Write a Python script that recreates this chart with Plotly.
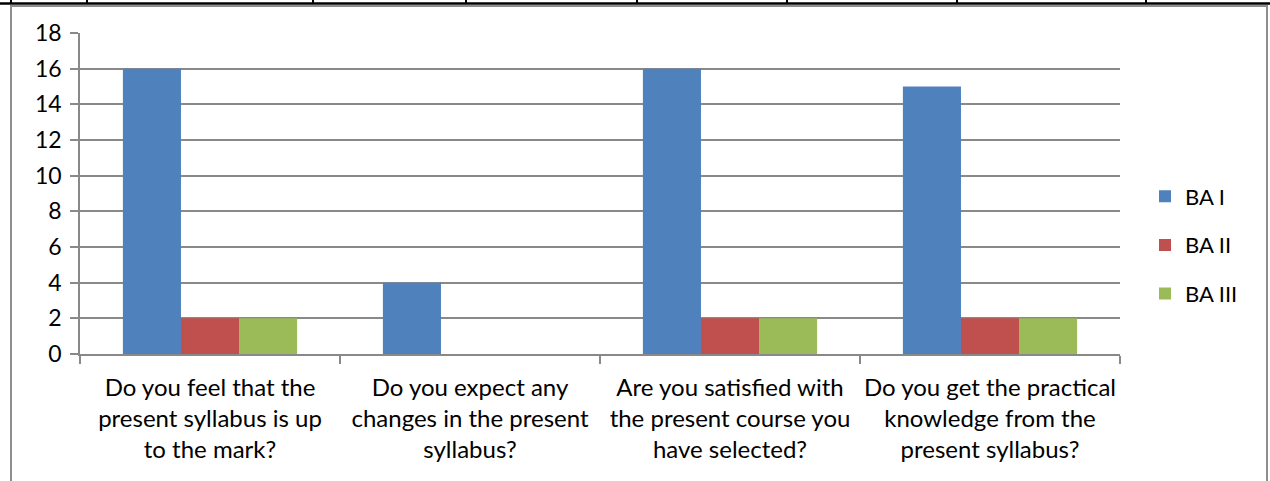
import plotly.graph_objects as go

categories = [
    "Do you feel that the<br>present syllabus is up<br>to the mark?",
    "Do you expect any<br>changes in the present<br>syllabus?",
    "Are you satisfied with<br>the present course you<br>have selected?",
    "Do you get the practical<br>knowledge from the<br>present syllabus?",
]
series_names = ["BA I", "BA II", "BA III"]
ba1 = [16, 4, 16, 15]
ba2 = [2, 0, 2, 2]
ba3 = [2, 0, 2, 2]
colors = ["#4F81BD", "#C0504D", "#9BBB59"]
y_ticks = [0, 2, 4, 6, 8, 10, 12, 14, 16, 18]

W, H = 1270, 481
L, R, T, B = 80, 150, 33, 127
PW, PH = W - L - R, H - T - B

def px(x):
    return (x - L) / PW

def py(y):
    return (H - B - y) / PH

FONT = "Lato, Calibri, Arial, sans-serif"
GRID = "#898989"

fig = go.Figure()
for name, vals, col in zip(series_names, [ba1, ba2, ba3], colors):
    fig.add_trace(go.Bar(name=name, x=categories, y=vals, marker_color=col,
                         marker_line_width=0, legendgroup=name))

shapes = []
# document table line at the top
shapes.append(dict(type="line", xref="paper", yref="paper", x0=px(0), x1=px(W),
                   y0=py(3.5), y1=py(3.5), line=dict(color="black", width=2.5)))
for xv in [11, 87, 313, 466, 637, 787, 957, 1146]:
    shapes.append(dict(type="line", xref="paper", yref="paper", x0=px(xv), x1=px(xv),
                       y0=py(0), y1=py(4), line=dict(color="black", width=2)))
# chart frame
shapes.append(dict(type="rect", xref="paper", yref="paper", x0=px(11), x1=px(1267),
                   y0=py(490), y1=py(6), line=dict(color="#8e8e8e", width=2),
                   fillcolor="rgba(0,0,0,0)", layer="below"))

fig.update_layout(
    width=W, height=H,
    margin=dict(l=L, r=R, t=T, b=B, pad=0, autoexpand=False),
    paper_bgcolor="white", plot_bgcolor="white",
    barmode="group", bargap=0.33, bargroupgap=0,
    font=dict(family=FONT, size=24, color="#000000"),
    showlegend=True,
    legend=dict(x=px(1145), y=py(245), xanchor="left", yanchor="middle",
                font=dict(family=FONT, size=22, color="#000000"),
                traceorder="grouped", tracegroupgap=17,
                bgcolor="rgba(0,0,0,0)", itemwidth=30),
    shapes=shapes,
    xaxis=dict(type="category", showline=True, linecolor=GRID, linewidth=1.5,
               ticks="outside", ticklen=8, tickcolor=GRID, tickwidth=1.5,
               tickson="boundaries", showgrid=False, ticklabelstandoff=11,
               tickangle=0, automargin=False,
               tickfont=dict(family=FONT, size=24, color="#000000")),
    yaxis=dict(range=[0, 18], tickvals=y_ticks, showline=True, linecolor=GRID,
               linewidth=1.5, ticks="outside", ticklen=8, tickcolor=GRID,
               tickwidth=1.5, showgrid=True, gridcolor=GRID, gridwidth=1.5,
               zeroline=False, ticklabelstandoff=4, automargin=False,
               tickfont=dict(family=FONT, size=23, color="#000000")),
)

fig.write_html("out.html", config={"displayModeBar": False},
               post_script="document.body.style.margin='0';document.body.style.padding='0';")
